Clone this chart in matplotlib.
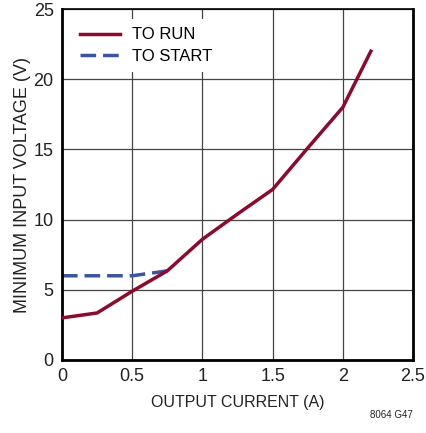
import matplotlib.pyplot as plt

# data
current_run = [0, 0.25, 0.5, 0.75, 1.0, 1.25, 1.5, 1.75, 2.0, 2.2]
voltage_run = [3.0, 3.35, 4.9, 6.35, 8.6, 10.4, 12.15, 15.1, 18.0, 22.0]
current_start = [0, 0.25, 0.5, 0.75]
voltage_start = [6.0, 6.0, 6.0, 6.35]

plt.rcParams['font.family'] = ['Liberation Sans', 'DejaVu Sans']

fig = plt.figure(figsize=(4.26, 4.33), dpi=100)
ax = fig.add_axes([0.1455, 0.1686, 0.824, 0.8104])

ax.plot(current_run, voltage_run, color='#8c0a2e', lw=2.5, label='TO RUN', zorder=3)
ax.plot(current_start, voltage_start, color='#3a55a0', lw=2.5, ls=(0, (4.5, 2)), label='TO START', zorder=2)

ax.set_xlim(0, 2.5)
ax.set_ylim(0, 25)
ax.set_xticks([0, 0.5, 1, 1.5, 2, 2.5])
ax.set_xticklabels(['0', '0.5', '1', '1.5', '2', '2.5'])
ax.set_yticks([0, 5, 10, 15, 20, 25])
ax.grid(True, color='#444444', lw=0.9)
ax.tick_params(length=0, labelsize=13, pad=6, colors='#222222')
for s in ax.spines.values():
    s.set_linewidth(1.2)
ax.spines['left'].set_linewidth(2)
ax.spines['bottom'].set_linewidth(2)
ax.spines['right'].set_linewidth(2)

ax.set_xlabel('OUTPUT CURRENT (A)', fontsize=11.5, color='#222222', labelpad=7)
ax.set_ylabel('MINIMUM INPUT VOLTAGE (V)', fontsize=13, color='#222222', labelpad=2)

leg = ax.legend(loc='upper left', fontsize=12, frameon=True, fancybox=False,
                edgecolor='none', framealpha=1, handlelength=2.4, borderaxespad=0.6,
                labelspacing=0.4, handletextpad=0.7, borderpad=0.5)
leg.get_frame().set_linewidth(0)

fig.text(0.97, 0.035, '8064 G47', fontsize=7, ha='right', color='#222222')

plt.savefig('out.png', dpi=100)
